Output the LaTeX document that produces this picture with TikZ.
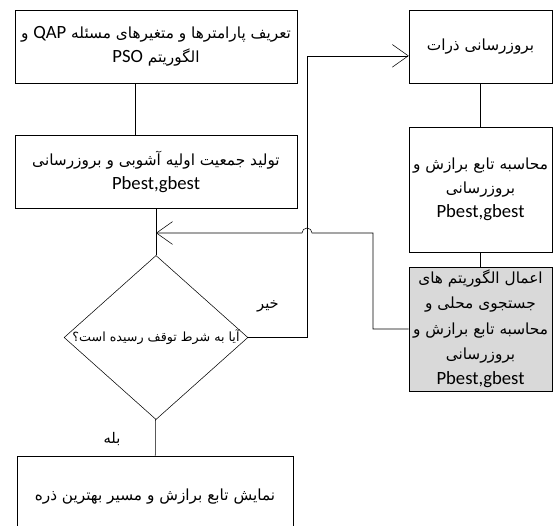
\documentclass[tikz,border=0pt]{standalone}
\usepackage{fontspec}
\setmainfont{Carlito}
\newfontfamily\arabicfont[Script=Arabic]{DejaVu Sans}
\TeXXeTstate=1
\usetikzlibrary{shapes.geometric,arrows.meta}
\newcommand{\fa}[1]{{\arabicfont\beginR #1\endR}}
\newcommand{\lat}[1]{\beginL{\rmfamily\fontsize{14}{18}\selectfont #1}\endL}
\newcommand{\pg}{{\fontsize{14}{18}\selectfont Pbest,gbest}}

\begin{document}
\begin{tikzpicture}[x=0.75pt,y=0.75pt,yscale=-1,xscale=1,
    box/.style={draw, align=center, inner sep=0.75pt, font=\fontsize{11.5}{18}\selectfont},
    flow/.style={-{Straight Barb[length=12pt,width=17pt]}}]
    \useasboundingbox (0,0) rectangle (553,525);

    %Shape: Rectangle [id:define]
    \node [box, minimum width=211.5pt, minimum height=54.75pt] (define) at (156,46.5) {\fa{تعریف پارامترها و متغیرهای مسئله \lat{QAP} و}\\ \fa{الگوریتم \lat{PSO}}};
    %Shape: Rectangle [id:init]
    \node [box, minimum width=211.5pt, minimum height=54.75pt] (init) at (156,171.5) {\fa{تولید جمعیت اولیه آشوبی و بروزرسانی}\\ \pg};
    %Shape: Diamond [id:check]
    \node [draw, diamond, aspect=1.12, inner sep=0pt, minimum width=132pt, minimum height=117.75pt, font=\fontsize{9.5}{12}\selectfont] (check) at (156,337.5) {\fa{آیا به شرط توقف رسیده است؟}};
    %Shape: Rectangle [id:result]
    \node [box, minimum width=207pt, minimum height=61.5pt] (result) at (155,497) {\fa{نمایش تابع برازش و مسیر بهترین ذره}};
    %Shape: Rectangle [id:update]
    \node [box, minimum width=107.25pt, minimum height=54.75pt] (update) at (480.5,46.5) {\fa{بروزرسانی ذرات}};
    %Shape: Rectangle [id:fitness]
    \node [box, minimum width=107.25pt, minimum height=93.75pt] (fitness) at (480.5,189.5) {\fa{محاسبه تابع برازش و}\\ \fa{بروزرسانی}\\ \pg};
    %Shape: Rectangle [id:local]
    \node [box, fill={rgb,255:red,217;green,217;blue,217}, minimum width=107.25pt, minimum height=93pt, font=\fontsize{11.5}{19}\selectfont] (local) at (480.5,329) {\fa{اعمال الگوریتم های}\\ \fa{جستجوی محلی و}\\ \fa{محاسبه تابع برازش و}\\ \fa{بروزرسانی}\\ \pg};

    %Straight Lines
    \draw ([xshift=-15.75pt]define.south) -- ([xshift=-15.75pt]init.north);
    \draw (init) -- (check);
    \draw (check) -- (result);
    \draw (update) -- (fitness);
    \draw (fitness) -- (local);
    \coordinate (merge) at (156,233);
    %Straight Lines (no branch)
    \draw [flow] (check.east) -- (307,337.5) coordinate (rise) |- ([yshift=7pt]update.west);
    %Straight Lines (loop back with hop)
    \draw [flow] (local.west) -- (373,329) |- (312,233) arc [start angle=0, end angle=-180, radius=5] -- (merge);

    % Text Node
    \node [font=\fontsize{11}{13}\selectfont, inner sep=0.75pt] (no) at (268,306) {\fa{خیر}};
    % Text Node
    \node [font=\fontsize{11}{13}\selectfont, inner sep=0.75pt] (yes) at (112,439) {\fa{بله}};
\end{tikzpicture}
\end{document}
